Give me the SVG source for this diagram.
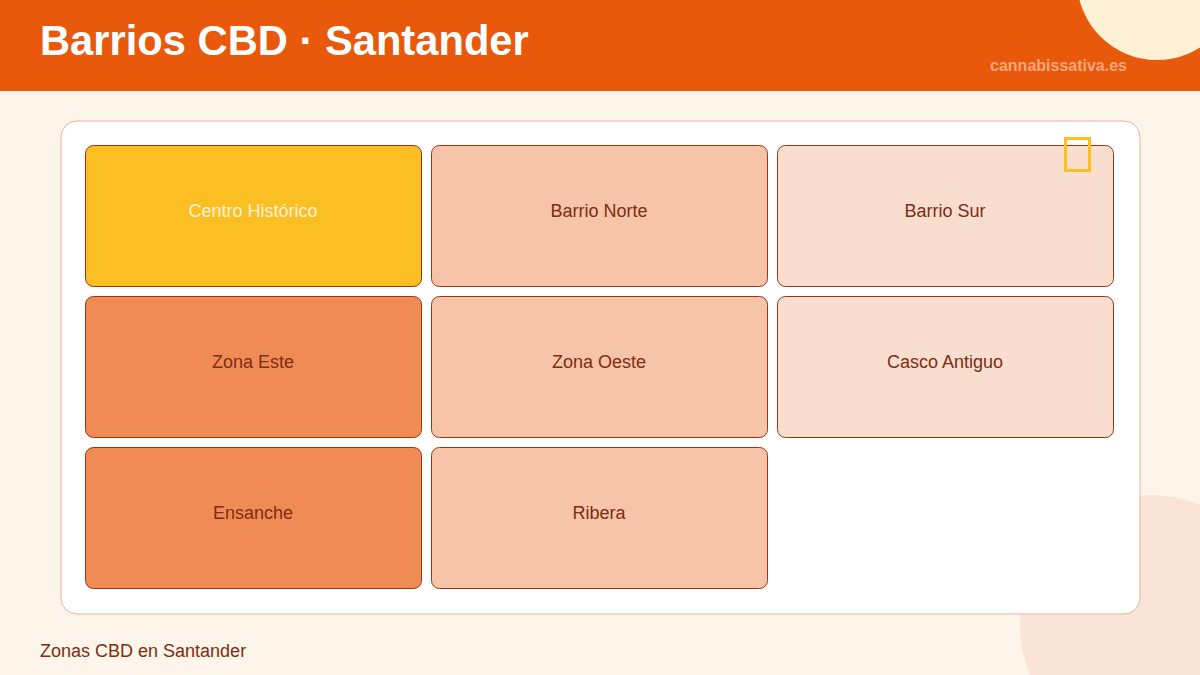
<svg xmlns="http://www.w3.org/2000/svg" width="1200" height="675" viewBox="0 0 1200 675">
<style>
.cell{stroke:#9A3412;stroke-width:1}
.lbl{font-family:"Liberation Sans",Arial,sans-serif;font-size:18px;fill:#7C2D12;text-anchor:middle}
</style>
<rect width="1200" height="675" fill="#FDF5EA"/>
<circle cx="1150" cy="625" r="130" fill="#F9E4D7"/>
<rect width="1200" height="91" fill="#E8590C"/>
<circle cx="1157" cy="-20" r="80" fill="#FFF1D6"/>
<text x="40" y="55" font-family="Liberation Sans,Arial,sans-serif" font-size="41.7" font-weight="bold" fill="#FFFFFF">Barrios CBD · Santander</text>
<text x="1127" y="71" font-family="Liberation Sans,Arial,sans-serif" font-size="16" font-weight="bold" fill="#F6A77C" text-anchor="end">cannabissativa.es</text>
<rect x="61" y="121" width="1079" height="493" rx="16" fill="#FFFFFF" stroke="#E9B396" stroke-width="1"/>
<g id="centro-historico"><rect class="cell" x="85.5" y="145.5" width="336" height="141" rx="8" fill="#FBBF24"/><text class="lbl" x="253" y="217" style="fill:#FFF3D6">Centro Histórico</text></g>
<g id="barrio-norte"><rect class="cell" x="431.5" y="145.5" width="336" height="141" rx="8" fill="#F6C4A8"/><text class="lbl" x="599" y="217">Barrio Norte</text></g>
<g id="barrio-sur"><rect class="cell" x="777.5" y="145.5" width="336" height="141" rx="8" fill="#F9DDCF"/><text class="lbl" x="945" y="217">Barrio Sur</text></g>
<g id="zona-este"><rect class="cell" x="85.5" y="296.5" width="336" height="141" rx="8" fill="#F08B55"/><text class="lbl" x="253" y="368">Zona Este</text></g>
<g id="zona-oeste"><rect class="cell" x="431.5" y="296.5" width="336" height="141" rx="8" fill="#F6C4A8"/><text class="lbl" x="599" y="368">Zona Oeste</text></g>
<g id="casco-antiguo"><rect class="cell" x="777.5" y="296.5" width="336" height="141" rx="8" fill="#F9DDCF"/><text class="lbl" x="945" y="368">Casco Antiguo</text></g>
<g id="ensanche"><rect class="cell" x="85.5" y="447.5" width="336" height="141" rx="8" fill="#F08B55"/><text class="lbl" x="253" y="519">Ensanche</text></g>
<g id="ribera"><rect class="cell" x="431.5" y="447.5" width="336" height="141" rx="8" fill="#F6C4A8"/><text class="lbl" x="599" y="519">Ribera</text></g>
<rect x="1065.5" y="138.5" width="24" height="32" fill="none" stroke="#FBBF24" stroke-width="3"/>
<g id="connectors"></g>
<text x="40" y="657" font-family="Liberation Sans,Arial,sans-serif" font-size="18" fill="#7C2D12">Zonas CBD en Santander</text>
</svg>
